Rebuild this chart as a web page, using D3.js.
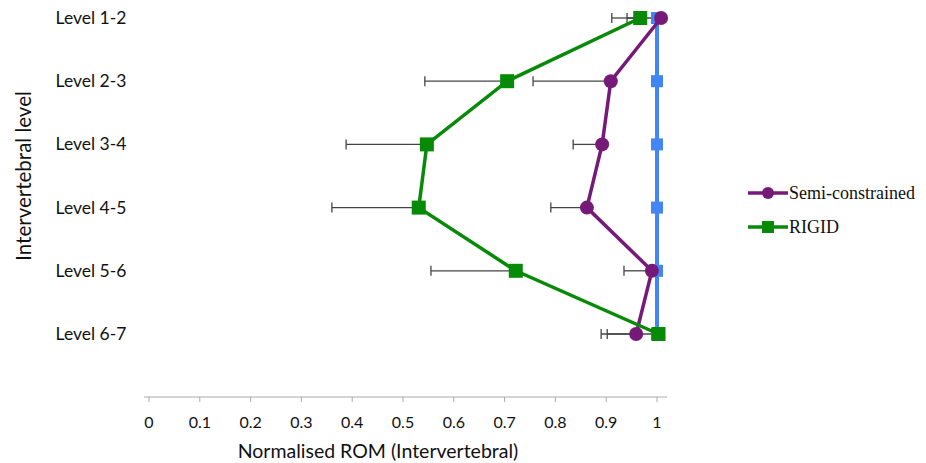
<!DOCTYPE html>
<html>
<head>
<meta charset="utf-8">
<script src="https://cdn.jsdelivr.net/npm/d3@7"></script>
<style>
  body { margin: 0; background: #fff; }
  text { font-family: Lato, "Open Sans", sans-serif; }
  text.serif { font-family: "Liberation Serif", serif; }
</style>
</head>
<body>
<svg id="chart" width="926" height="463"></svg>
<script>
// data
const levels = ["Level 1-2", "Level 2-3", "Level 3-4", "Level 4-5", "Level 5-6", "Level 6-7"];
const rigid = [0.967, 0.705, 0.547, 0.531, 0.722, 1.003];
const rigidLow = [0.911, 0.543, 0.388, 0.360, 0.555, 0.890];
const semi = [1.008, 0.909, 0.892, 0.862, 0.990, 0.959];
const semiLow = [0.941, 0.756, 0.835, 0.791, 0.935, 0.902];
const reference = [1, 1, 1, 1, 1, 1];
const xTicks = [0, 0.1, 0.2, 0.3, 0.4, 0.5, 0.6, 0.7, 0.8, 0.9, 1];

const svg = d3.select("#chart");

let x = d3.scaleLinear().domain([0, 1]).range([149, 657]);
let y = d3.scalePoint().domain(levels).range([18, 334]);

// x axis
let xAxis = svg.append("g").attr("transform", "translate(0,397)");
xAxis.append("line")
    .attr("x1", 144).attr("x2", 667)
    .attr("stroke", "#aaa").attr("stroke-width", 1);
xAxis.selectAll(".tick")
    .data(xTicks)
  .enter().append("line")
    .attr("x1", d => x(d)).attr("x2", d => x(d))
    .attr("y1", 0).attr("y2", 5)
    .attr("stroke", "#aaa");
xAxis.selectAll(".lbl")
    .data(xTicks)
  .enter().append("text")
    .attr("x", d => x(d)).attr("y", 31)
    .attr("text-anchor", "middle")
    .attr("font-size", 16)
    .attr("fill", "#111")
    .text(d => d);

svg.append("text")
    .attr("x", 378).attr("y", 458)
    .attr("text-anchor", "middle")
    .attr("font-size", 19.5)
    .attr("fill", "#111")
    .text("Normalised ROM (Intervertebral)");

// y labels
svg.selectAll(".ylab")
    .data(levels)
  .enter().append("text")
    .attr("x", 91).attr("y", d => y(d) + 6)
    .attr("text-anchor", "middle")
    .attr("font-size", 17.5)
    .attr("fill", "#111")
    .text(d => d);

svg.append("text")
    .attr("transform", "translate(31,176) rotate(-90)")
    .attr("text-anchor", "middle")
    .attr("font-size", 20.5)
    .attr("fill", "#111")
    .text("Intervertebral level");

// error bars (left only)
function errorBars(vals, lows) {
  let g = svg.append("g").attr("stroke", "#444").attr("stroke-width", 1.3);
  levels.forEach((lv, i) => {
    g.append("line")
      .attr("x1", x(lows[i])).attr("x2", x(vals[i]))
      .attr("y1", y(lv)).attr("y2", y(lv));
    g.append("line")
      .attr("x1", x(lows[i])).attr("x2", x(lows[i]))
      .attr("y1", y(lv) - 5).attr("y2", y(lv) + 5);
  });
}
errorBars(semi, semiLow);
errorBars(rigid, rigidLow);

let line = d3.line().x(d => x(d[0])).y(d => y(d[1]));

// blue reference series
svg.append("path")
    .attr("d", line(reference.map((v, i) => [v, levels[i]])))
    .attr("fill", "none").attr("stroke", "#4285f4").attr("stroke-width", 4);
svg.selectAll(".blue")
    .data(reference)
  .enter().append("rect")
    .attr("x", d => x(d) - 6).attr("y", (d, i) => y(levels[i]) - 6)
    .attr("width", 12).attr("height", 12)
    .attr("fill", "#4285f4");

// semi-constrained
const purple = "#761a7a";
svg.append("path")
    .attr("d", line(semi.map((v, i) => [v, levels[i]])))
    .attr("fill", "none").attr("stroke", purple).attr("stroke-width", 3.5);
svg.selectAll(".semi")
    .data(semi)
  .enter().append("circle")
    .attr("cx", d => x(d)).attr("cy", (d, i) => y(levels[i]))
    .attr("r", 7)
    .attr("fill", purple);

// rigid
const green = "#078a07";
svg.append("path")
    .attr("d", line(rigid.map((v, i) => [v, levels[i]])))
    .attr("fill", "none").attr("stroke", green).attr("stroke-width", 3.5);
svg.selectAll(".rigid")
    .data(rigid)
  .enter().append("rect")
    .attr("x", d => x(d) - 7).attr("y", (d, i) => y(levels[i]) - 7)
    .attr("width", 14).attr("height", 14)
    .attr("fill", green);

// legend
let legend = svg.append("g");
legend.append("line").attr("x1", 748).attr("x2", 788).attr("y1", 193).attr("y2", 193)
    .attr("stroke", purple).attr("stroke-width", 3.5);
legend.append("circle").attr("cx", 768).attr("cy", 193).attr("r", 6).attr("fill", purple);
legend.append("text").attr("class", "serif").attr("x", 789).attr("y", 199)
    .attr("font-size", 18)
    .attr("fill", "#111").text("Semi-constrained");
legend.append("line").attr("x1", 748).attr("x2", 788).attr("y1", 227).attr("y2", 227)
    .attr("stroke", green).attr("stroke-width", 3.5);
legend.append("rect").attr("x", 762).attr("y", 221).attr("width", 12).attr("height", 12).attr("fill", green);
legend.append("text").attr("class", "serif").attr("x", 789).attr("y", 233)
    .attr("font-size", 18)
    .attr("fill", "#111").text("RIGID");
</script>
</body>
</html>
